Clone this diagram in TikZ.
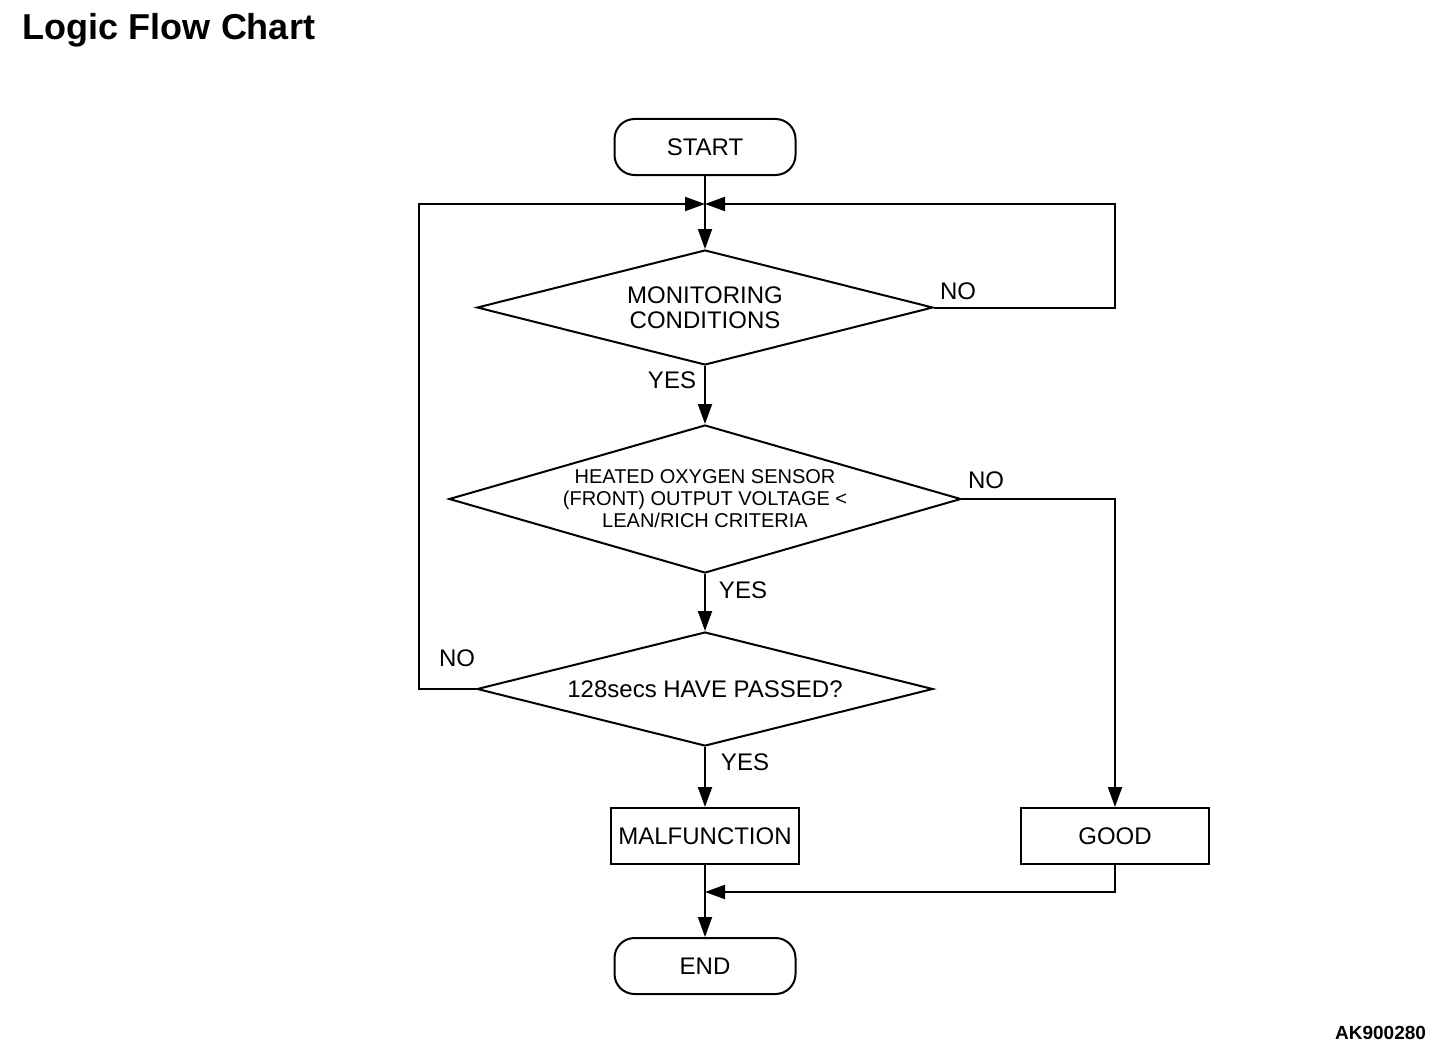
\documentclass[tikz,border=0pt]{standalone}
\usepackage{fontspec}
\setmainfont{Liberation Sans}
\usetikzlibrary{positioning,shapes.geometric,arrows.meta}

\begin{document}
\begin{tikzpicture}[x=0.5pt,y=-0.5pt,line width=1pt,
	arr/.style={-{Triangle[length=10pt,width=7pt]}},
	term/.style={draw,rounded corners=10pt,minimum width=90.5pt,minimum height=28pt,font=\fontsize{12}{14}\selectfont},
	proc/.style={draw,minimum width=94pt,minimum height=28pt,font=\fontsize{12}{14}\selectfont},
	dec/.style={draw,diamond,aspect=4,inner sep=0pt,align=center,font=\fontsize{12}{12.5}\selectfont},
	lbl/.style={font=\fontsize{12}{14}\selectfont}]
	\useasboundingbox (0,0) rectangle (1456,1054);
	\node[anchor=base west,inner sep=0pt,font=\bfseries\fontsize{18}{20}\selectfont] (title) at (22,40) {Logic Flow Chart};
	\node[anchor=base east,inner sep=0pt,font=\bfseries\fontsize{9.5}{11}\selectfont] (code) at (1427,1039) {AK900280};
	\node[term] (start) at (705,147) {START};
	\coordinate (j1) at (705,204);
	\coordinate (lcol) at (419,204);
	\coordinate (rcol) at (1115,204);
	\node[dec,minimum width=228pt,minimum height=57.5pt] (mon) at (705,307.5) {MONITORING\\CONDITIONS};
	\node[dec,aspect=3.45,minimum width=256pt,minimum height=74pt,font=\fontsize{10}{11}\selectfont] (heat) at (705,499) {HEATED OXYGEN SENSOR\\(FRONT) OUTPUT VOLTAGE <\\LEAN/RICH CRITERIA};
	\node[dec,minimum width=228pt,minimum height=57pt] (pass) at (705,689) {128secs HAVE PASSED?};
	\node[proc] (mal) at (705,836) {MALFUNCTION};
	\node[proc] (good) at (1115,836) {GOOD};
	\coordinate (j2) at (705,892);
	\node[term] (endn) at (705,966) {END};
	\node[lbl] (nomon) at (958,291) {NO};
	\node[lbl] (yesmon) at (672,380) {YES};
	\node[lbl] (noheat) at (986,480) {NO};
	\node[lbl] (yesheat) at (743,590) {YES};
	\node[lbl] (nopass) at (457,658) {NO};
	\node[lbl] (yespass) at (745,762) {YES};
	\draw[arr] (start) -- (mon);
	\draw[arr] (mon.east) -| (rcol) -- (j1);
	\draw[arr] (pass.west) -| (lcol) -- (j1);
	\draw[arr] (mon) -- (heat);
	\draw[arr] (heat.east) -| (good);
	\draw[arr] (heat) -- (pass);
	\draw[arr] (pass) -- (mal);
	\draw[arr] (good) |- (j2);
	\draw[arr] (mal) -- (endn);
\end{tikzpicture}
\end{document}
